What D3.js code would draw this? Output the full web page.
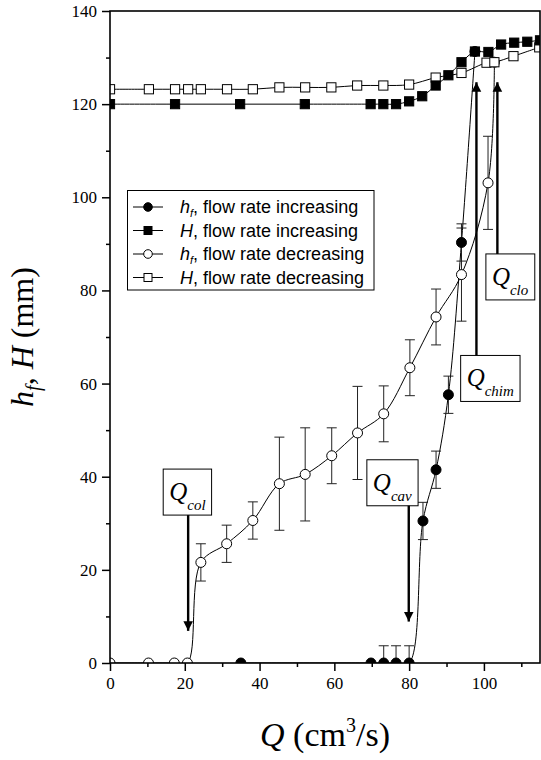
<!DOCTYPE html>
<html>
<head>
<meta charset="utf-8">
<script src="https://cdn.jsdelivr.net/npm/d3@7"></script>
<style>
  body { margin: 0; background: #fff; }
  svg { display: block; }
</style>
</head>
<body>
<svg id="chart"></svg>
<script>
// h_f, flow rate increasing (filled circles)
const hfIncQ = [35, 69.8, 73.2, 76.5, 80, 83.7, 87.2, 90.5, 94, 97.6];
const hfIncV = [0, 0, 0, 0, 0, 30.5, 41.5, 57.6, 90.3, 131.3];
const hfIncErr = [0, 0, 3.7, 3.7, 3.7, 4, 4, 4, 4, 0];

// H, flow rate increasing (filled squares)
const hIncQ = [0, 17.4, 34.8, 52.1, 69.7, 73.1, 76.5, 80, 83.5, 87.1, 90.5, 94, 97.6, 101.2, 104.6, 108.1, 111.6, 115];
const hIncV = [120, 120, 120, 120, 120, 120, 120, 120.6, 121.7, 124, 126.2, 129, 131.3, 131.2, 132.8, 133.2, 133.4, 133.7];

// h_f, flow rate decreasing (open circles)
const hfDecQ = [0, 10.3, 17.2, 20.7, 24.3, 31.2, 38.2, 45.3, 52.2, 59.3, 66.2, 73.2, 80.2, 87.2, 94, 101.1, 102.8];
const hfDecV = [0, 0, 0, 0, 21.6, 25.6, 30.6, 38.5, 40.5, 44.5, 49.4, 53.5, 63.4, 74.3, 83.4, 103.1, 129];
const hfDecErr = [0, 0, 0, 0, 4, 4, 4, 10, 10, 6, 10, 6, 6, 6, 10, 10, 0];

// H, flow rate decreasing (open squares)
const hDecQ = [0, 10.4, 17.4, 20.9, 24.3, 31.3, 38.2, 45.3, 52.2, 59.2, 66.1, 73.1, 80, 87.1, 94, 100.7, 102.8, 107.9, 114.8];
const hDecV = [123.2, 123.2, 123.2, 123.2, 123.2, 123.2, 123.2, 123.6, 123.6, 123.6, 124, 124, 124.2, 125.7, 126.7, 128.9, 129, 130.3, 132.2];

const xTicks = [0, 20, 40, 60, 80, 100];
const yTicks = [0, 20, 40, 60, 80, 100, 120, 140];

// annotations: label subscript, box centre (Q, value), arrow Q, arrow tip value
const annSub = ['col', 'cav', 'chim', 'clo'];
const annBoxQ = [20.7, 75.5, 101.7, 107.0];
const annBoxV = [36.7, 38.7, 61.1, 82.9];
const annArrowQ = [20.9, 79.9, 98.0, 103.6];
const annTipV = [6.9, 8.9, 124.7, 124.7];

const width = 541;
const height = 760;
const margin = { top: 11, right: 1, bottom: 97, left: 110 };
const innerW = width - margin.left - margin.right;
const innerH = height - margin.top - margin.bottom;

const svg = d3.select('#chart').attr('width', width).attr('height', height);

const x = d3.scaleLinear().domain([0, 115]).range([margin.left, margin.left + innerW]);
const y = d3.scaleLinear().domain([0, 140]).range([margin.top + innerH, margin.top]);

const serif = '"Liberation Serif", "Times New Roman", serif';
const sans = '"Liberation Sans", Arial, sans-serif';

svg.append('defs').append('clipPath').attr('id', 'plotClip')
  .append('rect')
  .attr('x', margin.left).attr('y', margin.top)
  .attr('width', innerW).attr('height', innerH);

svg.select('defs').append('marker')
  .attr('id', 'arrowHead')
  .attr('viewBox', '0 0 10 10')
  .attr('refX', 10).attr('refY', 5)
  .attr('markerWidth', 4).attr('markerHeight', 5)
  .attr('markerUnits', 'strokeWidth')
  .attr('orient', 'auto')
  .append('path').attr('d', 'M0,0 L10,5 L0,10 Z').attr('fill', '#000');

// axes
const bottomY = margin.top + innerH;
svg.append('g')
  .attr('transform', 'translate(0,' + bottomY + ')')
  .call(d3.axisBottom(x).tickValues(xTicks).tickSize(8).tickPadding(6).tickFormat(d3.format('d')));
svg.append('g')
  .attr('transform', 'translate(0,' + bottomY + ')')
  .call(d3.axisBottom(x).tickValues(d3.range(10, 115, 20)).tickSize(4).tickFormat(''));

svg.append('g')
  .attr('transform', 'translate(' + margin.left + ',0)')
  .call(d3.axisLeft(y).tickValues(yTicks).tickSize(8).tickPadding(5).tickFormat(d3.format('d')));
svg.append('g')
  .attr('transform', 'translate(' + margin.left + ',0)')
  .call(d3.axisLeft(y).tickValues(d3.range(10, 140, 20)).tickSize(4).tickFormat(''));

svg.selectAll('.domain').remove();
svg.selectAll('.tick line').attr('stroke', '#000').attr('stroke-width', 1.5);
svg.selectAll('.tick text')
  .attr('fill', '#000')
  .style('font-family', serif)
  .style('font-size', '17px');

// series
const plot = svg.append('g').attr('clip-path', 'url(#plotClip)');
const line = d3.line()
  .x((d) => x(d[0]))
  .y((d) => y(d[1]))
  .curve(d3.curveCatmullRom.alpha(0.5));

const zipPts = (qs, vs) => qs.map((q, i) => [q, vs[i]]);

const drawLine = (pts) => {
  plot.append('path')
    .datum(pts)
    .attr('d', line)
    .attr('fill', 'none')
    .attr('stroke', '#000')
    .attr('stroke-width', 1);
};

const drawErrors = (qs, vs, errs) => {
  const g = plot.append('g').attr('stroke', '#222').attr('stroke-width', 1);
  qs.forEach((q, i) => {
    const e = errs[i];
    if (!e) return;
    const cx = x(q);
    const y1 = y(vs[i] + e);
    const y0 = y(vs[i] - e);
    g.append('line').attr('x1', cx).attr('x2', cx).attr('y1', y0).attr('y2', y1);
    g.append('line').attr('x1', cx - 5).attr('x2', cx + 5).attr('y1', y0).attr('y2', y0);
    g.append('line').attr('x1', cx - 5).attr('x2', cx + 5).attr('y1', y1).attr('y2', y1);
  });
};

const drawCircles = (pts, fill) => {
  plot.append('g').selectAll('circle')
    .data(pts)
    .enter()
    .append('circle')
    .attr('cx', (d) => x(d[0]))
    .attr('cy', (d) => y(d[1]))
    .attr('r', 5)
    .attr('fill', fill)
    .attr('stroke', '#000')
    .attr('stroke-width', 1);
};

const drawSquares = (pts, fill) => {
  plot.append('g').selectAll('rect')
    .data(pts)
    .enter()
    .append('rect')
    .attr('x', (d) => x(d[0]) - 4.6)
    .attr('y', (d) => y(d[1]) - 4.6)
    .attr('width', 9.2)
    .attr('height', 9.2)
    .attr('fill', fill)
    .attr('stroke', '#000')
    .attr('stroke-width', 1);
};

const hfInc = zipPts(hfIncQ, hfIncV);
const hInc = zipPts(hIncQ, hIncV);
const hfDec = zipPts(hfDecQ, hfDecV);
const hDec = zipPts(hDecQ, hDecV);

drawLine(hInc);
drawLine(hDec);
drawLine(hfDec);
drawLine(hfInc);
drawErrors(hfDecQ, hfDecV, hfDecErr);
drawErrors(hfIncQ, hfIncV, hfIncErr);
drawCircles(hfDec, '#fff');
drawCircles(hfInc, '#000');
drawSquares(hDec, '#fff');
drawSquares(hInc, '#000');

// frame
svg.append('rect')
  .attr('x', margin.left).attr('y', margin.top)
  .attr('width', innerW).attr('height', innerH)
  .attr('fill', 'none')
  .attr('stroke', '#000')
  .attr('stroke-width', 1.6);

// annotations
const annG = svg.append('g');
annSub.forEach((sub, i) => {
  const cx = x(annBoxQ[i]);
  const cy = y(annBoxV[i]);
  const g = annG.append('g');
  const box = g.append('rect').attr('fill', '#fff').attr('stroke', '#000').attr('stroke-width', 1);
  const t = g.append('text')
    .attr('x', cx)
    .attr('y', cy + 8)
    .attr('text-anchor', 'middle')
    .style('font-family', serif)
    .style('font-style', 'italic');
  t.append('tspan').style('font-size', '25px').text('Q');
  t.append('tspan').style('font-size', '15px').attr('dy', 10).text(sub);
  const bb = t.node().getBBox();
  box.attr('x', bb.x - 6).attr('width', bb.width + 12)
    .attr('y', cy - 23).attr('height', 46);

  const ax = x(annArrowQ[i]);
  const tip = y(annTipV[i]);
  const start = tip > cy ? cy + 23 : cy - 23;
  g.append('line')
    .attr('x1', ax).attr('x2', ax)
    .attr('y1', start).attr('y2', tip)
    .attr('stroke', '#000')
    .attr('stroke-width', 2.4)
    .attr('marker-end', 'url(#arrowHead)');
});

// legend
const legendLabels = [
  ['h', 'f', ', flow rate increasing'],
  ['H', '', ', flow rate increasing'],
  ['h', 'f', ', flow rate decreasing'],
  ['H', '', ', flow rate decreasing'],
];
const legendShape = ['circle', 'rect', 'circle', 'rect'];
const legendFill = ['#000', '#000', '#fff', '#fff'];

const leg = svg.append('g');
leg.append('rect')
  .attr('x', 127.5).attr('y', 190.5)
  .attr('width', 246.5).attr('height', 99.5)
  .attr('fill', '#fff')
  .attr('stroke', '#000')
  .attr('stroke-width', 1);

legendLabels.forEach((lab, i) => {
  const ry = 207 + i * 23.5;
  leg.append('line')
    .attr('x1', 133).attr('x2', 163)
    .attr('y1', ry).attr('y2', ry)
    .attr('stroke', '#000').attr('stroke-width', 1);
  if (legendShape[i] === 'circle') {
    leg.append('circle').attr('cx', 148).attr('cy', ry).attr('r', 4.3)
      .attr('fill', legendFill[i]).attr('stroke', '#000').attr('stroke-width', 1);
  } else {
    leg.append('rect').attr('x', 144).attr('y', ry - 4).attr('width', 8).attr('height', 8)
      .attr('fill', legendFill[i]).attr('stroke', '#000').attr('stroke-width', 1);
  }
  const t = leg.append('text')
    .attr('x', 180).attr('y', ry + 6)
    .style('font-family', sans)
    .style('font-size', '18px')
    .attr('fill', '#000');
  t.append('tspan').style('font-style', 'italic').text(lab[0]);
  if (lab[1]) {
    t.append('tspan').style('font-style', 'italic').style('font-size', '11px').attr('dy', 4).text(lab[1]);
    t.append('tspan').attr('dy', -4).text(lab[2]);
  } else {
    t.append('tspan').text(lab[2]);
  }
});

// axis titles
const yt = svg.append('text')
  .attr('transform', 'translate(33,337) rotate(-90)')
  .attr('text-anchor', 'middle')
  .style('font-family', serif)
  .style('font-size', '32px')
  .attr('fill', '#000');
yt.append('tspan').style('font-style', 'italic').text('h');
yt.append('tspan').style('font-style', 'italic').style('font-size', '20px').attr('dy', 7).text('f');
yt.append('tspan').attr('dy', -7).text(', ');
yt.append('tspan').style('font-style', 'italic').text('H');
yt.append('tspan').text(' (mm)');

const xt = svg.append('text')
  .attr('x', 325).attr('y', 746)
  .attr('text-anchor', 'middle')
  .style('font-family', serif)
  .style('font-size', '34px')
  .attr('fill', '#000');
xt.append('tspan').style('font-style', 'italic').text('Q');
xt.append('tspan').text(' (cm');
xt.append('tspan').style('font-size', '20px').attr('dy', -14).text('3');
xt.append('tspan').attr('dy', 14).text('/s)');
</script>
</body>
</html>
